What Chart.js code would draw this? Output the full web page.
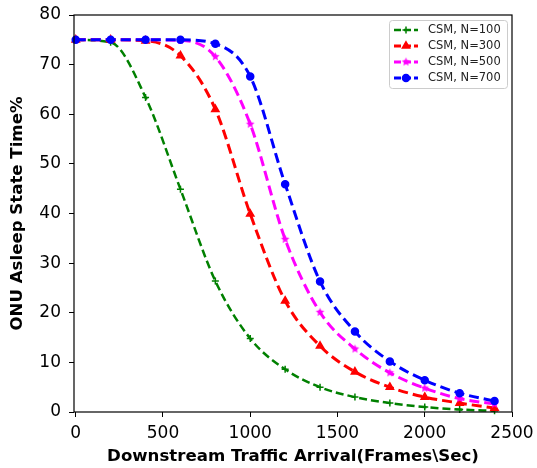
<!DOCTYPE html>
<html lang="en">
    <head>
        <meta charset="UTF-8">
        <script src="https://cdn.jsdelivr.net/npm/chart.js"></script>
        <style>
            html, body {
                margin: 0;
                padding: 0;
                background: #fff;
            }
            #wrap {
                width: 537px;
                height: 468px;
            }
        </style>
        <title>ONU Asleep State Time</title>
    </head>
    <body>
        <div id="wrap"><canvas id="chart"></canvas></div>
    </body>
    <script>
        // data
        const arrivals = [0, 200, 400, 600, 800, 1000, 1200, 1400, 1600, 1800, 2000, 2200, 2400];
        const csmN100 = [75, 74.5, 63.4, 44.9, 26.4, 14.8, 8.6, 5.0, 3.0, 1.8, 1.0, 0.5, 0.25];
        const csmN300 = [75, 75, 74.8, 71.8, 61.0, 39.9, 22.4, 13.3, 8.1, 5.0, 3.0, 1.8, 0.8];
        const csmN500 = [75, 75, 75, 74.9, 71.6, 58.0, 34.8, 20.1, 12.7, 7.9, 4.8, 2.7, 1.6];
        const csmN700 = [75, 75, 75, 75, 74.2, 67.6, 45.9, 26.3, 16.2, 10.2, 6.4, 3.8, 2.2];
        const xTicks = [0, 500, 1000, 1500, 2000, 2500];

        // small filled star, like matplotlib's '*' marker
        const makeStar = (color, r) => {
            const c = document.createElement('canvas');
            const size = Math.ceil(r * 2 + 2);
            c.width = size;
            c.height = size;
            const g = c.getContext('2d');
            g.fillStyle = color;
            g.beginPath();
            for (let k = 0; k < 10; k++) {
                const rad = k % 2 === 0 ? r : r * 0.45;
                const ang = -Math.PI / 2 + k * Math.PI / 5;
                const px = size / 2 + rad * Math.cos(ang);
                const py = size / 2 + rad * Math.sin(ang);
                k === 0 ? g.moveTo(px, py) : g.lineTo(px, py);
            }
            g.closePath();
            g.fill();
            return c;
        };

        const series = [
            {label: 'CSM, N=100', values: csmN100, color: '#008000', style: 'cross', radius: 3.5, width: 2.5, dash: [8, 4]},
            {label: 'CSM, N=300', values: csmN300, color: '#ff0000', style: 'triangle', radius: 4.2, width: 3, dash: [10, 5]},
            {label: 'CSM, N=500', values: csmN500, color: '#ff00ff', style: makeStar('#ff00ff', 4.5), radius: 4, width: 3, dash: [10, 5]},
            {label: 'CSM, N=700', values: csmN700, color: '#0000ff', style: 'circle', radius: 3.5, width: 3, dash: [10, 5]}
        ];

        const tickFont = {family: 'DejaVu Sans', size: 17};
        const titleFont = {family: 'DejaVu Sans', size: 16.6, weight: 'bold'};

        const framePlugin = {
            id: 'frame',
            afterDraw(chart) {
                const {ctx, chartArea: a} = chart;
                ctx.save();
                ctx.strokeStyle = '#000';
                ctx.lineWidth = 1.2;
                ctx.strokeRect(a.left, a.top, a.right - a.left, a.bottom - a.top);

                // legend box, matplotlib style
                const bx = 389, by = 20, bw = 118, bh = 68;
                ctx.fillStyle = 'rgba(255,255,255,0.8)';
                ctx.strokeStyle = '#cccccc';
                ctx.lineWidth = 1;
                ctx.beginPath();
                ctx.roundRect(bx + 0.5, by + 0.5, bw, bh, 3);
                ctx.fill();
                ctx.stroke();

                series.forEach((s, i) => {
                    const y = by + 10 + i * 16;
                    ctx.strokeStyle = s.color;
                    ctx.fillStyle = s.color;
                    ctx.lineWidth = s.width;
                    ctx.setLineDash([7, 3]);
                    ctx.beginPath();
                    ctx.moveTo(394, y);
                    ctx.lineTo(418, y);
                    ctx.stroke();
                    ctx.setLineDash([]);
                    ctx.lineWidth = 1.5;
                    Chart.helpers.drawPoint(ctx, {pointStyle: s.style, radius: s.radius, rotation: 0, borderWidth: 1.5}, 406, y);
                    ctx.fillStyle = '#222';
                    ctx.font = '11.5px "DejaVu Sans"';
                    ctx.textBaseline = 'middle';
                    ctx.fillText(s.label, 428, y + 0.5);
                });
                ctx.restore();
            }
        };

        new Chart(document.getElementById('chart'), {
            type: 'line',
            data: {
                labels: arrivals,
                datasets: series.map((s, i) => ({
                    label: s.label,
                    data: arrivals.map((x, j) => ({x: x, y: s.values[j]})),
                    borderColor: s.color,
                    backgroundColor: s.color,
                    borderWidth: s.width,
                    borderDash: s.dash,
                    pointStyle: s.style,
                    pointRadius: s.radius,
                    pointBorderWidth: 1.5,
                    pointHoverRadius: s.radius,
                    cubicInterpolationMode: 'monotone',
                    fill: false,
                    clip: false,
                    order: series.length - i
                }))
            },
            options: {
                responsive: true,
                maintainAspectRatio: false,
                animation: false,
                events: [],
                layout: {padding: {left: 0, top: 15, right: 25, bottom: 0}},
                plugins: {
                    legend: {display: false},
                    tooltip: {enabled: false}
                },
                scales: {
                    x: {
                        type: 'linear',
                        min: -10,
                        max: 2500,
                        afterFit(scale) {
                            scale.height = 56;
                            scale.paddingLeft = 0;
                            scale.paddingRight = 0;
                        },
                        afterBuildTicks(scale) { scale.ticks = xTicks.map(v => ({value: v})); },
                        ticks: {color: '#000', font: tickFont, padding: 6, maxRotation: 0, callback: v => String(v)},
                        grid: {display: true, drawOnChartArea: false, drawTicks: true, tickLength: 5, color: '#000'},
                        border: {display: false},
                        title: {
                            display: true,
                            text: 'Downstream Traffic Arrival(Frames\\Sec)',
                            color: '#000',
                            font: titleFont,
                            padding: {top: 0, bottom: 1}
                        }
                    },
                    y: {
                        min: 0,
                        max: 80,
                        afterFit(scale) {
                            scale.width = 74;
                            scale.paddingTop = 0;
                            scale.paddingBottom = 0;
                        },
                        ticks: {stepSize: 10, color: '#000', font: tickFont, padding: 8, callback: v => String(v)},
                        grid: {display: true, drawOnChartArea: false, drawTicks: true, tickLength: 5, color: '#000'},
                        border: {display: false},
                        title: {
                            display: true,
                            text: 'ONU Asleep State Time%',
                            color: '#000',
                            font: titleFont,
                            padding: {top: 8, bottom: 0}
                        }
                    }
                }
            },
            plugins: [framePlugin]
        });
    </script>
</html>
